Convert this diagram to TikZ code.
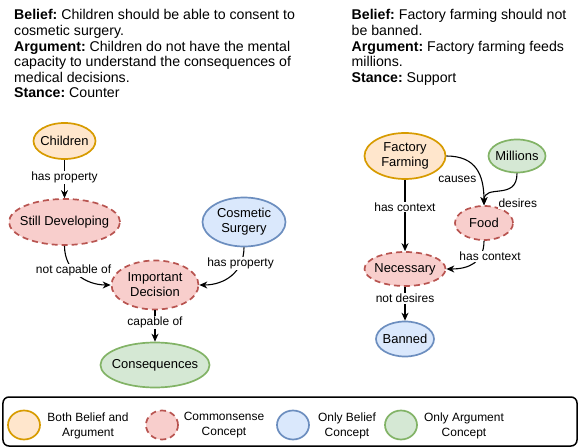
\documentclass[tikz,border=0pt]{standalone}
\usepackage{fontspec}
\setmainfont{Liberation Sans}
\usetikzlibrary{shapes.geometric,arrows.meta}
\definecolor{orF}{HTML}{FFE6CC}\definecolor{orD}{HTML}{D79B00}
\definecolor{rdF}{HTML}{F8CECC}\definecolor{rdD}{HTML}{B85450}
\definecolor{blF}{HTML}{DAE8FC}\definecolor{blD}{HTML}{6C8EBF}
\definecolor{grF}{HTML}{D5E8D4}\definecolor{grD}{HTML}{82B366}
\frenchspacing
\begin{document}
\begin{tikzpicture}[x=1bp,y=-1bp,
  ctext/.style={font=\fontsize{13}{15}\selectfont, align=center, inner sep=0pt},
  concept/.style={ellipse, line width=1.7bp, inner sep=0pt},
  both/.style={concept, draw=orD, fill=orF},
  common/.style={concept, draw=rdD, fill=rdF, dash pattern=on 6bp off 4bp},
  onlyb/.style={concept, draw=blD, fill=blF},
  onlya/.style={concept, draw=grD, fill=grF},
  rel/.style={line width=1.1bp, -{Stealth[length=8bp,width=7bp]}},
  lbl/.style={fill=white, inner sep=1bp, font=\fontsize{12}{14}\selectfont},
  info/.style={anchor=north west, inner sep=0pt, align=left, font=\fontsize{14.2}{15.7}\selectfont},
  legtext/.style={align=center, inner sep=0pt, font=\fontsize{12}{15}\selectfont},
  legshape/.style={minimum width=32bp, minimum height=29bp},
]
\useasboundingbox (0,0) rectangle (580,448);

% texts
\node[info] (leftinfo) at (14,9.3) {\textbf{Belief:} Children should be able to consent to\\cosmetic surgery.\\\textbf{Argument:} Children do not have the mental\\capacity to understand the consequences of\\medical decisions.\\\textbf{Stance:} Counter};
\node[info] (rightinfo) at (351.5,9.3) {\textbf{Belief:} Factory farming should not\\be banned.\\\textbf{Argument:} Factory farming feeds\\millions.\\\textbf{Stance:} Support};

% left graph
\node[both, minimum width=62bp, minimum height=36bp, label={[ctext]center:Children}] (children) at (64.5,141) {};
\node[common, minimum width=111bp, minimum height=46bp, label={[ctext]center:Still Developing}] (sd) at (64.5,222) {};
\node[onlyb, minimum width=83bp, minimum height=49bp, label={[ctext]center:Cosmetic\\Surgery}] (cs) at (244,222) {};
\node[common, minimum width=87bp, minimum height=49bp, label={[ctext]center:Important\\Decision}] (id) at (155,285) {};
\node[onlya, minimum width=109bp, minimum height=45bp, label={[ctext]center:Consequences}] (cons) at (155,365) {};

\draw[rel] (children) -- node[lbl, pos=0.45] (l1) {has property} (sd);
\draw[rel] (sd.south) .. controls +(0,25) and +(-25,0) .. node[lbl, pos=0.4] (l2) {not capable of} (id.west);
\draw[rel] (cs.south) .. controls +(0,25) and +(25,0) .. node[lbl, pos=0.25] (l3) {has property} (id.east);
\draw[rel] (id) -- node[lbl, pos=0.4] (l4) {capable of} (cons);

% right graph
\node[both, minimum width=81bp, minimum height=46bp, label={[ctext]center:Factory\\Farming}] (ff) at (405,156) {};
\node[onlya, minimum width=57bp, minimum height=33bp, label={[ctext]center:Millions}] (mil) at (517,156) {};
\node[common, minimum width=58bp, minimum height=34bp, label={[ctext]center:Food}] (food) at (484,223) {};
\node[common, minimum width=81bp, minimum height=34bp, label={[ctext]center:Necessary}] (nec) at (405,269) {};
\node[onlyb, minimum width=58bp, minimum height=35bp, label={[ctext]center:Banned}] (ban) at (405,339) {};

\draw[rel] (ff) -- node[lbl, pos=0.38] (l5) {has context} (nec);
\draw[rel] (ff.east) .. controls +(30,0) and +(0,-30) .. node[lbl, pos=0.62, anchor=east, xshift=-2bp, yshift=-3bp] (l6) {causes} (food.north);
\draw[rel] (mil.south) .. controls +(0,28) and +(0,-22) .. node[lbl, pos=0.85, anchor=west, xshift=11bp, yshift=-6bp] (l7) {desires} (food.north);
\draw[rel] (food.south) .. controls +(0,22) and +(22,0) .. node[lbl, pos=0.3, xshift=10bp] (l8) {has context} (nec.east);
\draw[rel] (nec) -- node[lbl, pos=0.35] (l9) {not desires} (ban);

% legend
\node[draw, line width=1.5bp, rounded corners=6bp, minimum width=574bp, minimum height=49bp, inner sep=0pt] (legend) at (290,421.5) {};
\node[both, legshape] (lg1) at (24,425) {};
\node[legtext] (lt1) at (88,425.5) {Both Belief and\\Argument};
\node[common, legshape] (lg2) at (162,425) {};
\node[legtext] (lt2) at (224,425.5) {Commonsense\\Concept};
\node[onlyb, legshape] (lg3) at (293,425) {};
\node[legtext] (lt3) at (347,425.5) {Only Belief\\Concept};
\node[onlya, legshape] (lg4) at (401,425) {};
\node[legtext] (lt4) at (464,425.5) {Only Argument\\Concept};
\end{tikzpicture}
\end{document}
